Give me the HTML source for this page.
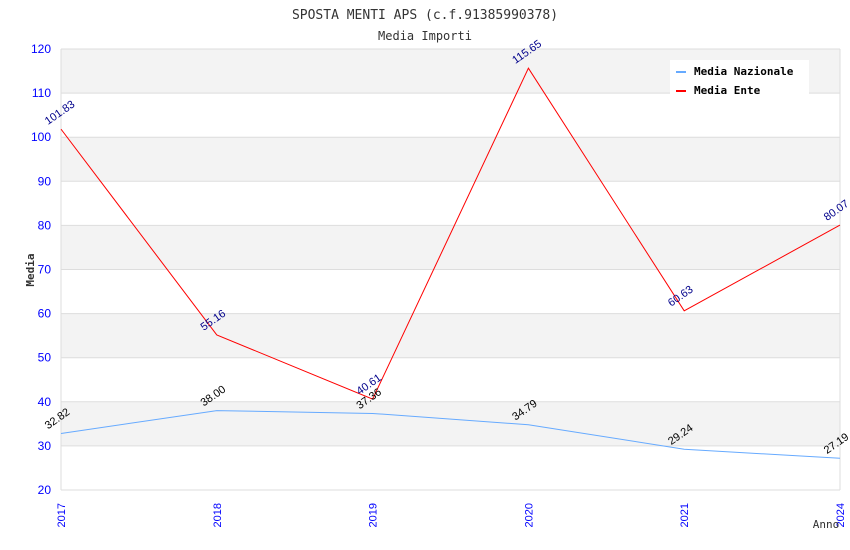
<!DOCTYPE html>
<html><head><meta charset="utf-8"><style>
body{margin:0;background:#fff}
svg{display:block}
text{font-family:"Liberation Sans",sans-serif}
text.mono{font-family:"DejaVu Sans Mono","Liberation Mono",monospace}
</style></head><body>
<svg id="c" width="850" height="550">
<text class="mono" x="425" y="19" text-anchor="middle" font-size="13" fill="#333">SPOSTA MENTI APS (c.f.91385990378)</text>
<text class="mono" x="425" y="40" text-anchor="middle" font-size="12" fill="#333">Media Importi</text>
<g id="bands"></g><g id="grid"></g><g id="axes"></g><g id="series"></g>
<text class="mono" x="34" y="270" transform="rotate(-90 34 270)" text-anchor="middle" font-size="11" font-weight="bold" fill="#333">Media</text>
<text class="mono" x="826" y="528" text-anchor="middle" font-size="11" fill="#333">Anno</text>
<g>
<rect x="670" y="60" width="139" height="36" fill="#fff"/>
<rect x="676" y="71" width="10" height="2" fill="#6af"/>
<text class="mono" x="694" y="75" font-size="11" font-weight="bold" fill="#000">Media Nazionale</text>
<rect x="676" y="90" width="10" height="2" fill="#f00"/>
<text class="mono" x="694" y="94" font-size="11" font-weight="bold" fill="#000">Media Ente</text>
</g>
</svg>
<script>
const years=["2017","2018","2019","2020","2021","2024"];
const nazionale=[32.82,38.00,37.36,34.79,29.24,27.19];
const ente=[101.83,55.16,40.61,115.65,60.63,80.07];
const yTicks=[20,30,40,50,60,70,80,90,100,110,120];
const X0=61,X1=840,Y0=490,Y1=49,YMIN=20,YMAX=120;
const xs=i=>X0+(X1-X0)*i/(years.length-1);
const ys=v=>Y0-(v-YMIN)/(YMAX-YMIN)*(Y0-Y1);
const NS="http://www.w3.org/2000/svg";
function mk(tag,attrs,parent,txt){const e=document.createElementNS(NS,tag);for(const k in attrs)e.setAttribute(k,attrs[k]);if(txt!=null)e.textContent=txt;document.getElementById(parent).appendChild(e);return e;}
for(let i=0;i<yTicks.length-1;i++){
  if((yTicks.length-2-i)%2===0){
    const b=mk('rect',{x:X0,y:ys(yTicks[i+1]),width:X1-X0,height:ys(yTicks[i])-ys(yTicks[i+1]),fill:'#f3f3f3'},'bands');
    
    
  }
}
yTicks.forEach(t=>{
  const l=mk('line',{x1:X0,x2:X1,y1:ys(t),y2:ys(t),stroke:'#ddd'},'grid');
  
  
  const tx=mk('text',{x:X0-10,y:ys(t)+4,'text-anchor':'end','font-size':12,fill:'#00f'},'axes',t);
  
  
});
mk('line',{x1:X0,x2:X0,y1:Y1,y2:Y0,stroke:'#ddd'},'grid');
mk('line',{x1:X1,x2:X1,y1:Y1,y2:Y0,stroke:'#ddd'},'grid');
years.forEach((y,i)=>{
  const x=xs(i)+4,yy=503;
  const t=mk('text',{x:x,y:yy,transform:`rotate(-90 ${x} ${yy})`,'text-anchor':'end','font-size':11,fill:'#00f'},'axes',y);
  
  
});
function series(vals,color,lblColor,name){
  const p=mk('polyline',{points:vals.map((v,i)=>xs(i)+','+ys(v)).join(' '),fill:'none',stroke:color,'stroke-width':1},'series');
  
  
  vals.forEach((v,i)=>{
    const x=xs(i)-13,y=ys(v)-4;
    const t=mk('text',{x:x,y:y,transform:`rotate(-35 ${x} ${y})`,'font-size':11,fill:lblColor},'series',v.toFixed(2));
    
    
  });
}
series(ente,'#f00','#00008b','ente');
series(nazionale,'#6af','#000','nazionale');
</script>
</body></html>
